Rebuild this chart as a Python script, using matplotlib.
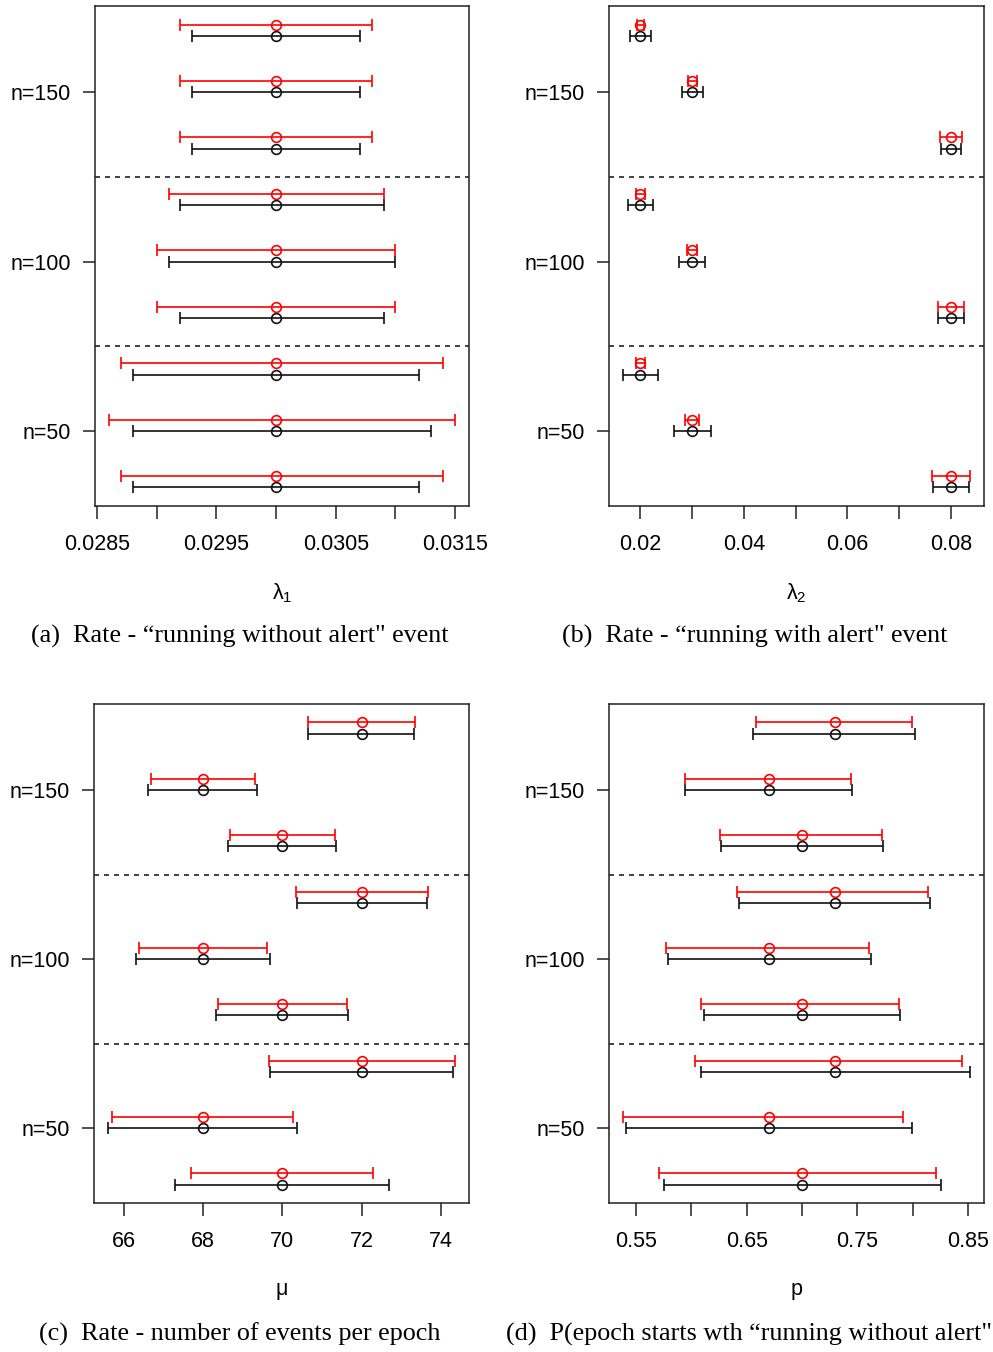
"""
Interval estimates of the four model parameters for three sample sizes.
Black: one method, red: the other. Rows listed top to bottom.
"""

import matplotlib
matplotlib.use("Agg")
import matplotlib.pyplot as plt
import numpy as np

groups = ["n=150", "n=100", "n=50"]

# panel (a): lambda_1
a_est = [0.03, 0.03, 0.03, 0.03, 0.03, 0.03, 0.03, 0.03, 0.03]
a_red_lo = [0.0292, 0.0292, 0.0292, 0.0291, 0.0290, 0.0290, 0.0287, 0.0286, 0.0287]
a_red_hi = [0.0308, 0.0308, 0.0308, 0.0309, 0.0310, 0.0310, 0.0314, 0.0315, 0.0314]
a_blk_lo = [0.0293, 0.0293, 0.0293, 0.0292, 0.0291, 0.0292, 0.0288, 0.0288, 0.0288]
a_blk_hi = [0.0307, 0.0307, 0.0307, 0.0309, 0.0310, 0.0309, 0.0312, 0.0313, 0.0312]

# panel (b): lambda_2
b_est = [0.02, 0.03, 0.08, 0.02, 0.03, 0.08, 0.02, 0.03, 0.08]
b_red_lo = [0.0193, 0.0291, 0.0778, 0.0191, 0.0290, 0.0774, 0.0191, 0.0286, 0.0763]
b_red_hi = [0.0207, 0.0309, 0.0822, 0.0209, 0.0310, 0.0826, 0.0209, 0.0314, 0.0837]
b_blk_lo = [0.0180, 0.0280, 0.0780, 0.0176, 0.0275, 0.0775, 0.0166, 0.0264, 0.0765]
b_blk_hi = [0.0220, 0.0320, 0.0820, 0.0224, 0.0325, 0.0825, 0.0234, 0.0336, 0.0835]

# panel (c): mu
c_est = [72, 68, 70, 72, 68, 70, 72, 68, 70]
c_red_lo = [70.65, 66.68, 68.67, 70.34, 66.39, 68.37, 69.66, 65.71, 67.70]
c_red_hi = [73.34, 69.32, 71.33, 73.68, 69.61, 71.64, 74.36, 70.28, 72.30]
c_blk_lo = [70.66, 66.61, 68.63, 70.37, 66.30, 68.34, 69.69, 65.60, 67.30]
c_blk_hi = [73.33, 69.37, 71.36, 73.64, 69.68, 71.67, 74.31, 70.37, 72.70]

# panel (d): p
d_est = [0.73, 0.67, 0.70, 0.73, 0.67, 0.70, 0.73, 0.67, 0.70]
d_red_lo = [0.658, 0.594, 0.626, 0.641, 0.577, 0.609, 0.603, 0.538, 0.571]
d_red_hi = [0.799, 0.744, 0.772, 0.814, 0.761, 0.788, 0.845, 0.791, 0.821]
d_blk_lo = [0.656, 0.594, 0.627, 0.643, 0.579, 0.611, 0.609, 0.541, 0.575]
d_blk_hi = [0.802, 0.745, 0.773, 0.816, 0.762, 0.789, 0.852, 0.799, 0.826]

a_ticks = [0.0285, 0.0290, 0.0295, 0.0300, 0.0305, 0.0310, 0.0315]
a_labels = ["0.0285", "", "0.0295", "", "0.0305", "", "0.0315"]
b_ticks = [0.02, 0.03, 0.04, 0.05, 0.06, 0.07, 0.08]
b_labels = ["0.02", "", "0.04", "", "0.06", "", "0.08"]
c_ticks = [66, 68, 70, 72, 74]
c_labels = ["66", "68", "70", "72", "74"]
d_ticks = [0.55, 0.60, 0.65, 0.70, 0.75, 0.80, 0.85]
d_labels = ["0.55", "", "0.65", "", "0.75", "", "0.85"]

captions = [
	"(a)  Rate - \u201crunning without alert\" event",
	"(b)  Rate - \u201crunning with alert\" event",
	"(c)  Rate - number of events per epoch",
	"(d)  P(epoch starts wth \u201crunning without alert\"",
]

plt.rcParams["font.family"] = ["Liberation Sans", "DejaVu Sans"]
plt.rcParams["font.size"] = 15.5

W, H = 993., 1352.

def initialize_subplot(fig, x0, y0, x1, y1):
	ax = fig.add_axes([x0 / W, 1 - y1 / H, (x1 - x0) / W, (y1 - y0) / H])
	for s in ax.spines.values():
		s.set_linewidth(1.1)
		s.set_color("#222222")
	ax.tick_params(direction = "out", length = 9, width = 1.1, 
		color = "#222222", labelsize = 15.5)
	ax.tick_params(axis = "x", pad = 11.5)
	ax.tick_params(axis = "y", pad = 8.5)
	return ax

def draw(ax, est, red_lo, red_hi, blk_lo, blk_hi, ticks, labels, xlabel):
	est = np.array(est, dtype = float)
	ypos = np.arange(len(est), 0, -1).astype(float)
	kw = dict(fmt = "o", mfc = "none", ms = 7.0, mew = 1.2, lw = 1.2, 
		capsize = 4.4, capthick = 1.2)
	ax.errorbar(est, ypos, xerr = [est - np.array(blk_lo), 
		np.array(blk_hi) - est], color = "#111111", ecolor = "#111111", 
		mec = "#111111", **kw)
	ax.errorbar(est, ypos + 0.2, xerr = [est - np.array(red_lo), 
		np.array(red_hi) - est], color = "red", ecolor = "red", 
		mec = "red", **kw)
	for yy in [3.5, 6.5]:
		ax.axhline(yy, color = "#222222", lw = 1.2, linestyle = (0, (3, 3)))
	lo = min(min(red_lo), min(blk_lo))
	hi = max(max(red_hi), max(blk_hi))
	pad = 0.04 * (hi - lo)
	ax.set_xlim(lo - pad, hi + pad)
	ax.set_ylim(1 - 0.04 * 8.2, 9.2 + 0.04 * 8.2)
	ax.set_xticks(ticks)
	ax.set_xticklabels(labels)
	ax.set_yticks([8, 5, 2])
	ax.set_yticklabels(groups)
	ax.set_xlabel(xlabel, fontsize = 15.5, labelpad = 19)

if __name__ == "__main__":
	fig = plt.figure(figsize = (9.93, 13.52), dpi = 100)
	ax_a = initialize_subplot(fig, 95, 6, 469, 506)
	ax_b = initialize_subplot(fig, 609, 6, 984, 506)
	ax_c = initialize_subplot(fig, 94, 704, 469, 1203)
	ax_d = initialize_subplot(fig, 609, 704, 984, 1203)
	draw(ax_a, a_est, a_red_lo, a_red_hi, a_blk_lo, a_blk_hi, a_ticks, 
		a_labels, r"$\mathregular{\lambda_1}$")
	draw(ax_b, b_est, b_red_lo, b_red_hi, b_blk_lo, b_blk_hi, b_ticks, 
		b_labels, r"$\mathregular{\lambda_2}$")
	draw(ax_c, c_est, c_red_lo, c_red_hi, c_blk_lo, c_blk_hi, c_ticks, 
		c_labels, "\u03bc")
	draw(ax_d, d_est, d_red_lo, d_red_hi, d_blk_lo, d_blk_hi, d_ticks, 
		d_labels, "p")
	serif = ["Liberation Serif", "DejaVu Serif"]
	fig.text(240 / W, 1 - 636 / H, captions[0], ha = "center", va = "center", 
		family = serif, fontsize = 18.8)
	fig.text(755 / W, 1 - 636 / H, captions[1], ha = "center", va = "center", 
		family = serif, fontsize = 18.8)
	fig.text(240 / W, 1 - 1334 / H, captions[2], ha = "center", va = "center", 
		family = serif, fontsize = 18.8)
	fig.text(506 / W, 1 - 1334 / H, captions[3], ha = "left", va = "center", 
		family = serif, fontsize = 18.8)
	plt.savefig("out.png", dpi = 100)
	plt.clf()
